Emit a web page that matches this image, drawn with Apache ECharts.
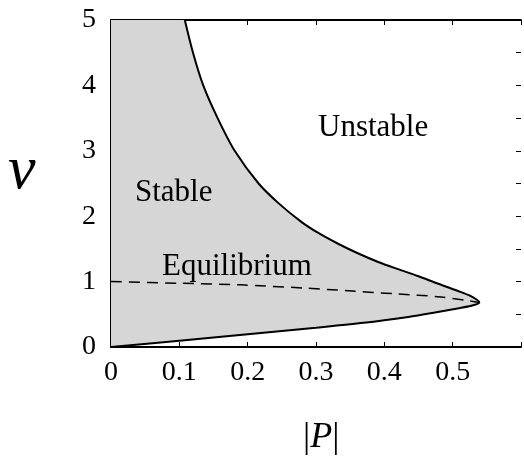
<!DOCTYPE html>
<html>
<head>
<meta charset="utf-8">
<script src="https://cdn.jsdelivr.net/npm/echarts@6/dist/echarts.min.js"></script>
<style>
  html, body { margin: 0; padding: 0; background: #fff; }
  #main { width: 524px; height: 456px; }
</style>
</head>
<body>
<div id="main"></div>
<script>
// Stability boundary: lower branch from origin up to the nose, then upper branch to v = 5
const boundaryP = [0, 0.1, 0.2, 0.3, 0.37, 0.435, 0.47, 0.507, 0.527, 0.539,
                   0.526, 0.507, 0.478, 0.449, 0.42, 0.391, 0.362, 0.333, 0.304, 0.279,
                   0.245, 0.216, 0.181, 0.156, 0.135, 0.120, 0.108];
const boundaryV = [0, 0.095, 0.195, 0.295, 0.37, 0.46, 0.52, 0.59, 0.63, 0.68,
                   0.78, 0.86, 0.97, 1.085, 1.19, 1.30, 1.43, 1.575, 1.74, 1.91,
                   2.2, 2.5, 3.0, 3.5, 4.0, 4.5, 5.0];
// Equilibrium (dashed)
const equilP = [0, 0.1, 0.19, 0.284, 0.347, 0.42, 0.478, 0.522, 0.539];
const equilV = [1.0, 0.975, 0.95, 0.90, 0.86, 0.81, 0.77, 0.71, 0.68];
// Corner that closes the stable region along the v axis
const cornerP = [0];
const cornerV = [5];

const xTicks = [0, 0.1, 0.2, 0.3, 0.4, 0.5];
const yTicks = [0, 1, 2, 3, 4, 5];

const boundary = boundaryP.map((p, i) => [p, boundaryV[i]]);
const equil = equilP.map((p, i) => [p, equilV[i]]);
const region = boundary.concat(cornerP.map((p, i) => [p, cornerV[i]]));

const serif = 'Liberation Serif';
const black = { color: '#000', width: 1 };

const chart = echarts.init(document.getElementById('main'), null, { renderer: 'canvas' });

const option = {
  backgroundColor: '#fff',
  animation: false,
  grid: { left: 111, right: -1, top: 20, bottom: 109 },
  xAxis: [{
    type: 'value', min: 0, max: 0.6, interval: 0.1,
    axisLine: { onZero: false, lineStyle: { color: '#000', width: 2 } },
    axisTick: { inside: true, length: 5, lineStyle: black },
    splitLine: { show: false },
    axisLabel: {
      color: '#000', fontFamily: serif, fontSize: 28, margin: 12,
      formatter: v => xTicks.some(t => Math.abs(t - v) < 1e-9) ? String(+v.toFixed(1)) : ''
    }
  }, {
    type: 'value', position: 'top', min: 0, max: 0.6, interval: 0.1,
    axisLine: { onZero: false, lineStyle: { color: '#000', width: 2 } },
    axisTick: { inside: true, length: 5, lineStyle: black },
    axisLabel: { show: false },
    splitLine: { show: false }
  }],
  yAxis: [{
    type: 'value', min: 0, max: 5, interval: 1,
    axisLine: { show: true, onZero: false, lineStyle: { color: '#000', width: 2 } },
    axisTick: { show: true, inside: true, length: 5, lineStyle: black },
    minorTick: { show: true, splitNumber: 2, length: 4, lineStyle: black },
    splitLine: { show: false },
    axisLabel: {
      color: '#000', fontFamily: serif, fontSize: 28, margin: 15,
      formatter: v => yTicks.includes(v) ? String(v) : ''
    }
  }, {
    type: 'value', position: 'right', min: 0, max: 5, interval: 0.5,
    axisLine: { show: false, onZero: false },
    axisTick: { show: true, inside: true, length: 5, lineStyle: black },
    axisLabel: { show: false },
    splitLine: { show: false }
  }],
  series: [{
    // shaded stable region
    type: 'custom',
    data: [0],
    z: 1,
    silent: true,
    renderItem: (params, api) => ({
      type: 'polygon',
      shape: { points: region.map(pt => api.coord(pt)) },
      style: { fill: '#d6d6d6', stroke: 'none' }
    })
  }, {
    type: 'line',
    data: boundary,
    smooth: 0.3,
    showSymbol: false,
    z: 3,
    lineStyle: { color: '#000', width: 2 }
  }, {
    type: 'line',
    data: equil,
    smooth: 0.3,
    showSymbol: false,
    z: 3,
    lineStyle: { color: '#000', width: 1.5, type: [11, 7] }
  }],
  graphic: [
    { type: 'text', left: 318, top: 112, z: 10,
      style: { text: 'Unstable', font: `31px "${serif}"`, fill: '#000' } },
    { type: 'text', left: 135, top: 177, z: 10,
      style: { text: 'Stable', font: `31px "${serif}"`, fill: '#000' } },
    { type: 'text', left: 162, top: 251, z: 10,
      style: { text: 'Equilibrium', font: `31px "${serif}"`, fill: '#000' } },
    { type: 'text', left: 8, top: 141, z: 10,
      style: { text: 'v', font: `italic 62px "${serif}"`, fill: '#000' } },
    { type: 'text', left: 303, top: 420, z: 10,
      style: {
        text: '|{p|P}|', font: `36px "${serif}"`, fill: '#000',
        rich: { p: { font: `italic 36px "${serif}"`, fill: '#000' } }
      } }
  ]
};

chart.setOption(option);
</script>
</body>
</html>
